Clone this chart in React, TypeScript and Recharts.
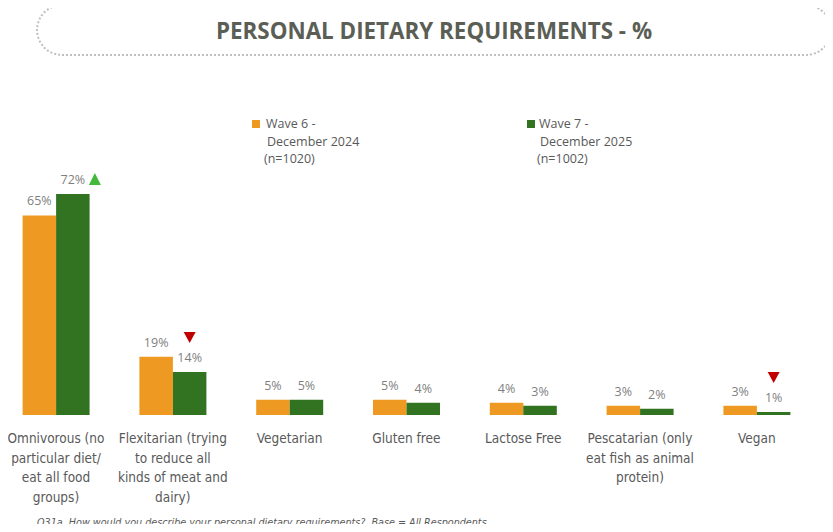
import React from "react";
import { BarChart, Bar, XAxis, YAxis, LabelList, Legend } from "recharts";

const categories = [
  "Omnivorous",
  "Flexitarian",
  "Vegetarian",
  "Gluten free",
  "Lactose Free",
  "Pescatarian",
  "Vegan",
];
const tickLines = [
  ["Omnivorous (no", "particular diet/", "eat all food", "groups)"],
  ["Flexitarian (trying", "to reduce all", "kinds of meat and", "dairy)"],
  ["Vegetarian"],
  ["Gluten free"],
  ["Lactose Free"],
  ["Pescatarian (only", "eat fish as animal", "protein)"],
  ["Vegan"],
];
const wave6 = [65, 19, 5, 5, 4, 3, 3];
const wave7 = [72, 14, 5, 4, 3, 2, 1];
const wave7Sig = ["up", "down", "", "", "", "", "down"];
const legendWave6 = ["Wave 6 -", "December 2024", "(n=1020)"];
const legendWave7 = ["Wave 7 -", "December 2025", "(n=1002)"];

const ORANGE = "#EE9A22";
const GREEN = "#327321";
const LABEL_GRAY = "#7F7F7F";
const TEXT_GRAY = "#595959";

const data = categories.map((c, i) => ({
  name: c,
  idx: i,
  wave6: wave6[i],
  wave7: wave7[i],
}));

const valueFont = "'Open Sans', sans-serif";
const tickFont = "'Liberation Sans Narrow', 'DejaVu Sans Condensed', sans-serif";

const makeLabel = (withSig: boolean) => (props: any) => {
  const { x, y, width, value, index } = props;
  const cx = Number(x) + Number(width) / 2;
  const top = Number(y);
  const sig = withSig ? wave7Sig[index] : "";
  return (
    <g>
      <text
        x={cx}
        y={top - 10}
        textAnchor="middle"
        fill={LABEL_GRAY}
        fontSize={12.5}
        fontFamily={valueFont}
      >
        {value}%
      </text>
      {sig === "up" && (
        <polygon
          points={`${cx + 16},${top - 9} ${cx + 28},${top - 9} ${cx + 22},${top - 21}`}
          fill="#44B83A"
        />
      )}
      {sig === "down" && (
        <polygon
          points={`${cx - 6},${top - 40} ${cx + 6},${top - 40} ${cx},${top - 29}`}
          fill="#C00000"
        />
      )}
    </g>
  );
};

const Tick = (props: any) => {
  const { x, y, payload } = props;
  const lines = tickLines[payload.index] || [payload.value];
  return (
    <g>
      {lines.map((l, i) => (
        <text
          key={i}
          x={x}
          y={y + 20 + i * 19.7}
          textAnchor="middle"
          fill={TEXT_GRAY}
          fontSize={13.5}
          fontFamily={tickFont}
        >
          {l}
        </text>
      ))}
    </g>
  );
};

const LegendContent = () => {
  const item = (left: number, textOffset: number, color: string, lines: string[]) => (
    <div style={{ position: "absolute", left, top: 115 }}>
      <div
        style={{
          position: "absolute",
          left: 0,
          top: 5,
          width: 8,
          height: 8,
          background: color,
        }}
      />
      <div
        style={{
          position: "absolute",
          left: 0,
          top: 0,
          fontFamily: valueFont,
          fontSize: 12.5,
          color: TEXT_GRAY,
          lineHeight: "17.5px",
          whiteSpace: "nowrap",
        }}
      >
        <div style={{ paddingLeft: textOffset }}>{lines[0]}</div>
        <div style={{ paddingLeft: textOffset + 1 }}>{lines[1]}</div>
        <div style={{ paddingLeft: textOffset - 2 }}>{lines[2]}</div>
      </div>
    </div>
  );
  return (
    <div style={{ position: "relative", width: 833, height: 0 }}>
      {item(252, 14, ORANGE, legendWave6)}
      {item(527, 12, GREEN, legendWave7)}
    </div>
  );
};

export default function App() {
  return (
    <div
      style={{
        position: "relative",
        margin: -8,
        width: 833,
        height: 532,
        overflow: "hidden",
        background: "#fff",
      }}
    >
      <div
        style={{
          position: "absolute",
          left: 36,
          top: 4,
          width: 792,
          height: 48,
          border: "2px dotted #BFBFBF",
          borderRadius: 26,
          display: "flex",
          alignItems: "center",
          justifyContent: "center",
          fontFamily: "'Open Sans', sans-serif",
          fontWeight: 700,
          fontSize: 22.4,
          color: "#5B5E55",
        }}
      >
        PERSONAL DIETARY REQUIREMENTS - %
      </div>
      <BarChart
        width={845}
        height={532}
        data={data}
        margin={{ top: 108, left: 9.6, right: 17.8, bottom: 7 }}
        barGap={0}
        style={{ position: "absolute", left: -12, top: 0 }}
      >
        <XAxis
          dataKey="name"
          axisLine={false}
          tickLine={false}
          height={110}
          interval={0}
          tick={<Tick />}
        />
        <YAxis hide domain={[0, 100]} />
        <Legend
          content={<LegendContent />}
          wrapperStyle={{ position: "absolute", left: 12, top: 0, width: 833 }}
        />
        <Bar dataKey="wave6" fill={ORANGE} barSize={33.5} isAnimationActive={false}>
          <LabelList dataKey="wave6" content={makeLabel(false)} />
        </Bar>
        <Bar dataKey="wave7" fill={GREEN} barSize={33.5} isAnimationActive={false}>
          <LabelList dataKey="wave7" content={makeLabel(true)} />
        </Bar>
      </BarChart>
      <div
        style={{
          position: "absolute",
          left: 37,
          top: 516,
          fontFamily: tickFont,
          fontStyle: "italic",
          fontSize: 10.7,
          color: TEXT_GRAY,
          whiteSpace: "nowrap",
        }}
      >
        Q31a. How would you describe your personal dietary requirements?&nbsp;&nbsp;Base = All Respondents.
      </div>
    </div>
  );
}
